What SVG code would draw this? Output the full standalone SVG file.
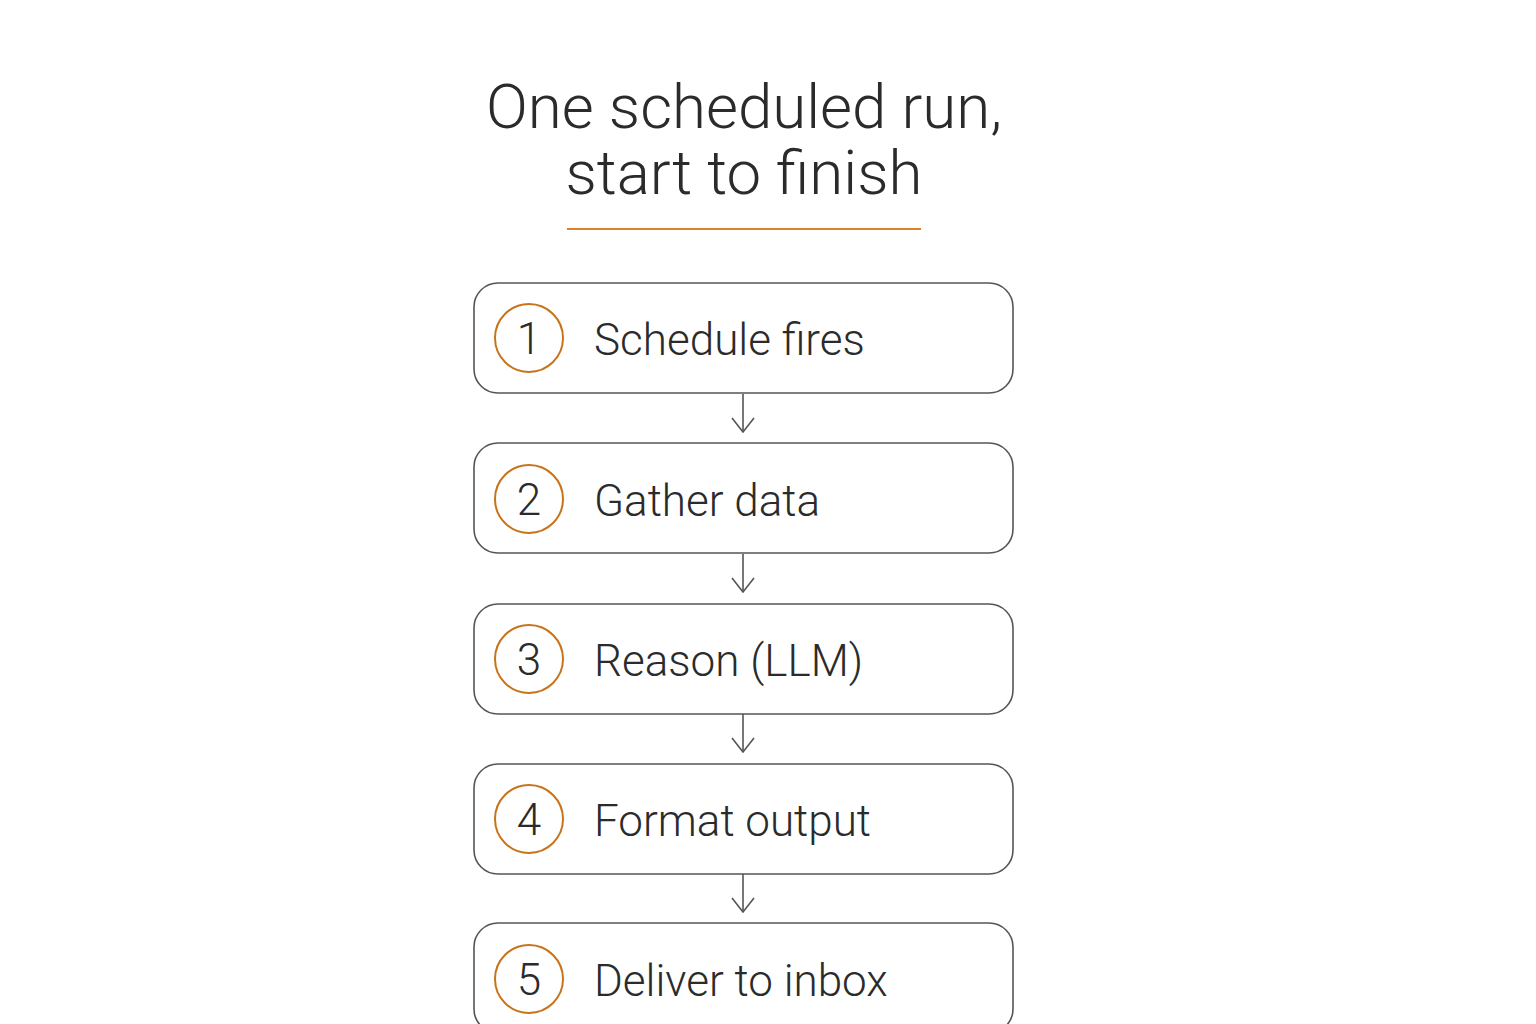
<svg xmlns="http://www.w3.org/2000/svg" width="1536" height="1024" viewBox="0 0 1536 1024">
<defs>
<style>
.title{font-family:Roboto,"Liberation Sans",sans-serif;font-size:61.8px;font-weight:300;fill:#2b2b2b;text-anchor:middle}
.box{fill:#ffffff;stroke:#555;stroke-width:1.6}
.num{fill:none;stroke:#c8731a;stroke-width:2}
.numt{font-family:Roboto,"Liberation Sans",sans-serif;font-size:44px;font-weight:300;fill:#2b2b2b;text-anchor:middle}
.lbl{font-family:Roboto,"Liberation Sans",sans-serif;font-size:44px;font-weight:300;fill:#2b2b2b}
.con{stroke:#555;stroke-width:1.6;fill:none}
</style>
<marker id="arr" viewBox="0 0 16 24" refX="15" refY="12" markerWidth="16" markerHeight="24" markerUnits="userSpaceOnUse" orient="auto">
<path d="M1 1 L15 12 L1 23" fill="none" stroke="#555" stroke-width="1.6"/>
</marker>
</defs>
<rect width="1536" height="1024" fill="#ffffff"/>
<g id="title">
<text class="title" x="744" y="128">One scheduled run,</text>
<text class="title" x="744" y="194">start to finish</text>
<line x1="567" y1="229" x2="921" y2="229" stroke="#d9822b" stroke-width="2"/>
</g>
<g id="connectors">
<line class="con" x1="743" y1="394" x2="743" y2="432" marker-end="url(#arr)"/>
<line class="con" x1="743" y1="554" x2="743" y2="592" marker-end="url(#arr)"/>
<line class="con" x1="743" y1="714" x2="743" y2="752" marker-end="url(#arr)"/>
<line class="con" x1="743" y1="874" x2="743" y2="912" marker-end="url(#arr)"/>
</g>
<g id="step1">
<rect class="box" x="474" y="283" width="539" height="110" rx="24"/>
<circle class="num" cx="529" cy="338" r="34"/>
<text class="numt" x="529" y="354">1</text>
<text class="lbl" x="594" y="355">Schedule fires</text>
</g>
<g id="step2">
<rect class="box" x="474" y="443" width="539" height="110" rx="24"/>
<circle class="num" cx="529" cy="499" r="34"/>
<text class="numt" x="529" y="515">2</text>
<text class="lbl" x="594" y="516">Gather data</text>
</g>
<g id="step3">
<rect class="box" x="474" y="604" width="539" height="110" rx="24"/>
<circle class="num" cx="529" cy="659" r="34"/>
<text class="numt" x="529" y="675">3</text>
<text class="lbl" x="594" y="676">Reason (LLM)</text>
</g>
<g id="step4">
<rect class="box" x="474" y="764" width="539" height="110" rx="24"/>
<circle class="num" cx="529" cy="819" r="34"/>
<text class="numt" x="529" y="835">4</text>
<text class="lbl" x="594" y="836">Format output</text>
</g>
<g id="step5">
<rect class="box" x="474" y="923" width="539" height="110" rx="24"/>
<circle class="num" cx="529" cy="979" r="34"/>
<text class="numt" x="529" y="995">5</text>
<text class="lbl" x="594" y="996">Deliver to inbox</text>
</g>
</svg>
